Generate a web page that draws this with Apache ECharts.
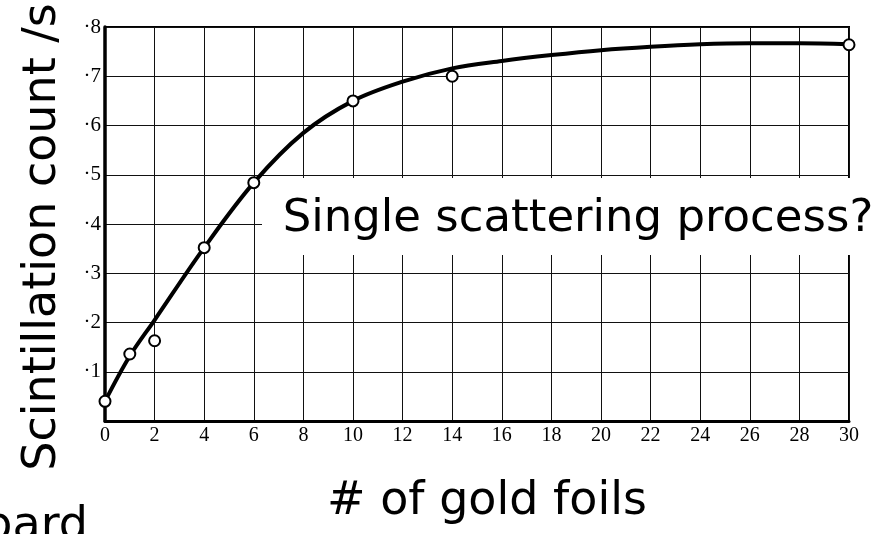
<!DOCTYPE html>
<html>
<head>
<meta charset="utf-8">
<script src="https://cdn.jsdelivr.net/npm/echarts@6/dist/echarts.min.js"></script>
<style>
  html, body { margin: 0; padding: 0; background: #fff; }
  #chart { width: 885px; height: 534px; }
</style>
</head>
<body>
<div id="chart"></div>
<script>
// Measured data points (# of gold foils, scintillation count per second)
var pointFoils  = [0, 1, 2, 4, 6, 10, 14, 30];
var pointCounts = [0.04, 0.136, 0.163, 0.352, 0.484, 0.65, 0.70, 0.764];

// Hand-drawn fitted curve
var curveFoils  = [0, 1, 2, 4, 6, 8, 10, 12, 14, 16, 18, 20, 22, 24, 26, 28, 30];
var curveCounts = [0.04, 0.132, 0.205, 0.352, 0.484, 0.585, 0.65, 0.689, 0.716, 0.731, 0.743, 0.753, 0.760, 0.765, 0.767, 0.767, 0.765];

// Tick labels
var yTickLabels = ['', '\u00b71', '\u00b72', '\u00b73', '\u00b74', '\u00b75', '\u00b76', '\u00b77', '\u00b78'];

var xAxisTitle = '# of gold foils';
var yAxisTitle = 'Scintillation count /s';
var noteText = 'Single scattering process?';
var cutText = 'board';

var chart = echarts.init(document.getElementById('chart'), null, { renderer: 'canvas' });

function zip(a, b) { return a.map(function (v, i) { return [v, b[i]]; }); }

var bigFont = 'DejaVu Sans';
var tickFont = 'Liberation Serif';

chart.setOption({
  backgroundColor: '#fff',
  animation: false,
  grid: {
    left: 105, right: 36, top: 27, bottom: 113,
    containLabel: false,
    outerBoundsMode: 'none',
    show: true, borderColor: '#000', borderWidth: 2,
    backgroundColor: 'transparent'
  },
  xAxis: {
    type: 'value', min: 0, max: 30, interval: 2,
    name: xAxisTitle, nameLocation: 'middle', nameGap: 58,
    nameTextStyle: { fontFamily: bigFont, fontSize: 46, color: '#000', padding: [0, 0, 0, 20] },
    axisLine: { show: true, lineStyle: { color: '#000', width: 3 } },
    axisTick: { show: false },
    axisLabel: { fontFamily: tickFont, fontSize: 20, color: '#000', margin: 5 },
    splitLine: { show: true, lineStyle: { color: '#111', width: 1 } }
  },
  yAxis: {
    type: 'value', min: 0, max: 0.8, interval: 0.1,
    name: yAxisTitle, nameLocation: 'middle', nameGap: 39,
    nameTextStyle: { fontFamily: bigFont, fontSize: 46, color: '#000', padding: [0, 26, 0, 0] },
    axisLine: { show: true, lineStyle: { color: '#000', width: 3.5 } },
    axisTick: { show: false },
    axisLabel: {
      fontFamily: tickFont, fontSize: 21, color: '#000', margin: 4,
      formatter: function (v) { return yTickLabels[Math.round(v * 10)] || ''; }
    },
    splitLine: { show: true, lineStyle: { color: '#111', width: 1 } }
  },
  series: [
    {
      type: 'line', name: 'curve',
      data: zip(curveFoils, curveCounts),
      smooth: 0.35, showSymbol: false, symbol: 'none',
      lineStyle: { color: '#000', width: 4 },
      z: 3
    },
    {
      type: 'scatter', name: 'measured',
      data: zip(pointFoils, pointCounts),
      symbol: 'circle', symbolSize: 11,
      itemStyle: { color: '#fff', borderColor: '#000', borderWidth: 2, opacity: 1 },
      z: 4
    }
  ],
  graphic: [
    {
      type: 'rect', z: 100,
      shape: { x: 262, y: 178, width: 623, height: 77 },
      style: { fill: '#fff' }
    },
    {
      type: 'text', z: 101,
      style: {
        text: noteText, x: 578, y: 219, align: 'center', verticalAlign: 'middle',
        font: '45px "' + bigFont + '"', fill: '#000'
      }
    },
    {
      type: 'text', z: 101,
      style: {
        text: cutText, x: 88, y: 527, align: 'right', verticalAlign: 'middle',
        font: '46px "' + bigFont + '"', fill: '#000'
      }
    }
  ]
});
</script>
</body>
</html>
